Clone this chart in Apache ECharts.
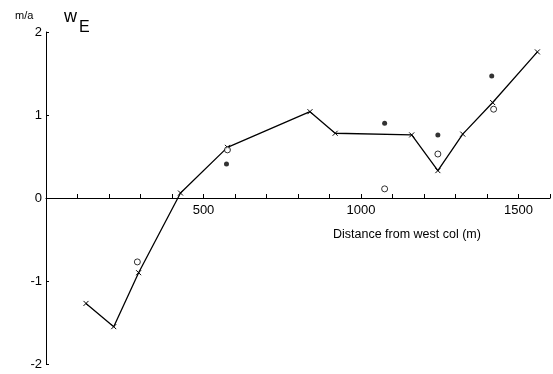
<!DOCTYPE html>
<html>
<head>
<meta charset="utf-8">
<script src="https://cdn.jsdelivr.net/npm/echarts@6/dist/echarts.min.js"></script>
<style>
  html, body { margin: 0; padding: 0; background: #fff; }
  #chart { width: 553px; height: 374px; }
</style>
</head>
<body>
<div id="chart"></div>
<script>
// Emergence velocity along the profile (distance in m, value in m/a)
const lineDistance = [127, 215, 294, 427, 576, 838, 918, 1161, 1244, 1323, 1418, 1560];
const lineValue    = [-1.27, -1.55, -0.90, 0.06, 0.61, 1.04, 0.78, 0.76, 0.33, 0.77, 1.15, 1.76];

const openDistance = [290, 576, 1075, 1244, 1421];
const openValue    = [-0.77, 0.58, 0.11, 0.53, 1.07];

const filledDistance = [573, 1075, 1244, 1415];
const filledValue    = [0.41, 0.90, 0.76, 1.47];

const xLabels = [500, 1000, 1500];
const yTicks = [-2, -1, 0, 1, 2];

const zip = (xs, ys) => xs.map((x, i) => [x, ys[i]]);
const FONT = 'Liberation Sans';

const GRID_TOP = 32, GRID_BOTTOM = 10, Y_MIN = -2, Y_MAX = 2;
const chartHeight = 374;
// distance (px) from the bottom of the plot up to the zero line, so the
// x labels sit just under the axis that runs through y = 0
const plotH = chartHeight - GRID_TOP - GRID_BOTTOM;
const zeroLift = plotH * (0 - Y_MIN) / (Y_MAX - Y_MIN);

const chart = echarts.init(document.getElementById('chart'));
chart.setOption({
  animation: false,
  backgroundColor: '#fff',
  grid: { left: 46, right: 2, top: GRID_TOP, bottom: GRID_BOTTOM },
  xAxis: {
    type: 'value',
    min: 0, max: 1600, interval: 100,
    axisLine: { onZero: true, lineStyle: { color: '#000', width: 1.2 } },
    axisTick: { inside: true, length: 4, lineStyle: { color: '#000', width: 1 } },
    splitLine: { show: false },
    axisLabel: {
      color: '#000', fontFamily: FONT, fontSize: 13, margin: 6 - zeroLift,
      formatter: v => (xLabels.indexOf(v) >= 0 ? String(v) : '')
    }
  },
  yAxis: {
    type: 'value',
    min: Y_MIN, max: Y_MAX, interval: 1,
    axisLine: { show: true, lineStyle: { color: '#000', width: 1 } },
    axisTick: { show: true, inside: true, length: 3, lineStyle: { color: '#000' } },
    splitLine: { show: false },
    axisLabel: {
      color: '#000', fontFamily: FONT, fontSize: 13, margin: 4,
      formatter: v => (yTicks.indexOf(v) >= 0 ? String(v) : '')
    }
  },
  graphic: [
    { type: 'text', left: 15, top: 10,
      style: { text: 'm/a', fill: '#000', font: '11px "Liberation Sans"' } },
    { type: 'text', left: 64, top: 8,
      style: { text: 'w', fill: '#000', font: '18px "Liberation Sans"' } },
    { type: 'text', left: 79, top: 20,
      style: { text: 'E', fill: '#000', font: '16px "Liberation Sans"' } },
    { type: 'text', left: 333, top: 228,
      style: { text: 'Distance from west col (m)', fill: '#000', font: '12.5px "Liberation Sans"' } }
  ],
  series: [
    {
      type: 'line',
      data: zip(lineDistance, lineValue),
      symbol: 'path://M0,0L10,10M10,0L0,10',
      symbolSize: 5,
      lineStyle: { color: '#000', width: 1.3 },
      itemStyle: { color: '#000', borderColor: '#000', borderWidth: 1 },
      z: 2
    },
    {
      type: 'scatter',
      data: zip(openDistance, openValue),
      symbol: 'circle',
      symbolSize: 6,
      itemStyle: { color: '#fff', borderColor: '#000', borderWidth: 1 },
      z: 3
    },
    {
      type: 'scatter',
      data: zip(filledDistance, filledValue),
      symbol: 'circle',
      symbolSize: 5,
      itemStyle: { color: '#000' },
      z: 3
    }
  ]
});
</script>
</body>
</html>
